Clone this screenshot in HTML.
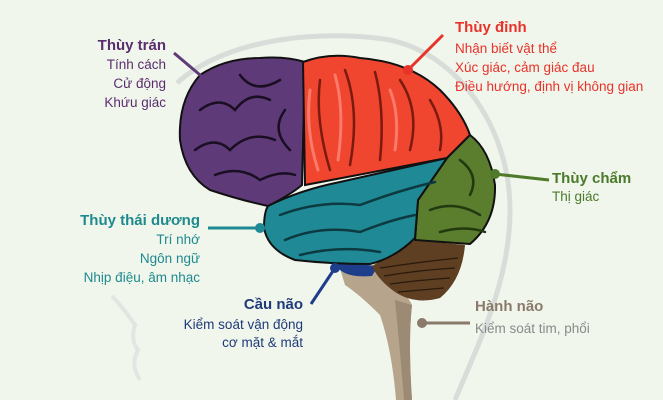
<!DOCTYPE html>
<html><head><meta charset="utf-8"><style>
html,body{margin:0;padding:0;background:#f0f6ec;}
svg{display:block;font-family:"Liberation Sans","DejaVu Sans",sans-serif;}
</style></head><body>
<svg width="663" height="400" viewBox="0 0 663 400">
<rect width="663" height="400" fill="#f0f6ec"/>
<path d="M177,83 C230,35 330,30 390,40 C460,55 510,130 510,210 C510,280 480,340 455,400" fill="none" stroke="#d9ddd9" stroke-width="5"/>
<path d="M112,296 Q125,310 135,325 Q130,340 138,350 Q130,365 140,380" fill="none" stroke="#e2e6e2" stroke-width="4"/>
<!-- brainstem -->
<path d="M338,262 L378,268 Q405,290 412,305 Q408,340 412,400 L396,400 Q392,350 380,315 Q360,295 345,285 Z" fill="#b7a48c"/>
<path d="M395,300 Q400,350 404,400 L412,400 Q408,340 412,305 Z" fill="#9c8a74"/>
<!-- pons -->
<path d="M336,262 L378,266 L372,276 Q350,278 340,270 Z" fill="#1e3d8a"/>
<!-- cerebellum -->
<path d="M372,266 L415,240 L465,245 Q462,280 440,298 Q415,305 395,292 Q378,280 372,266 Z" fill="#5e3f22"/>
<g stroke="#2a1a0c" stroke-width="1.3" fill="none">
<path d="M380,268 Q420,262 458,258"/><path d="M384,276 Q420,270 455,268"/><path d="M390,284 Q420,280 450,278"/><path d="M398,292 Q420,290 444,288"/>
</g>
<!-- purple frontal -->
<path d="M268,206 Q240,200 210,190 Q185,175 180,140 Q178,100 200,75 Q225,58 260,58 Q285,56 305,62 L302,185 Q290,195 268,206 Z" fill="#5f3a78" stroke="#111" stroke-width="2"/>
<!-- red parietal -->
<path d="M303,62 Q330,52 360,58 Q410,62 440,90 Q462,112 470,135 L447,158 L305,185 Z" fill="#f0452e" stroke="#111" stroke-width="2"/>
<!-- green occipital -->
<path d="M470,135 Q490,150 495,185 Q496,222 470,244 L415,240 L418,200 L447,158 Z" fill="#5a7d2e" stroke="#111" stroke-width="2"/>
<!-- teal temporal -->
<path d="M268,206 Q300,190 340,182 L447,158 L418,200 L415,238 Q395,258 370,264 Q330,264 295,260 Q268,250 264,228 Q264,212 268,206 Z" fill="#1f8a95" stroke="#111" stroke-width="2"/>
<!-- folds -->
<g stroke="#1a0f22" stroke-width="2.5" fill="none" stroke-linecap="round">
<path d="M200,110 Q220,95 235,110 Q250,90 270,100"/><path d="M195,150 Q215,135 230,150 Q250,130 275,140"/><path d="M215,175 Q240,165 260,180 Q280,170 295,175"/><path d="M240,75 Q255,95 280,80"/><path d="M285,110 Q270,130 290,150"/>
</g>
<g stroke="#7a1a10" stroke-width="2.5" fill="none" stroke-linecap="round">
<path d="M320,80 Q315,120 330,170"/><path d="M345,70 Q360,110 350,165"/><path d="M375,72 Q385,110 380,160"/><path d="M400,80 Q420,110 410,150"/><path d="M430,100 Q445,125 440,150"/>
</g>
<g stroke="#fa7b6a" stroke-width="3" fill="none" stroke-linecap="round">
<path d="M310,90 Q305,130 318,170"/><path d="M335,75 Q345,110 338,160"/><path d="M390,90 Q400,115 395,150"/>
</g>
<g stroke="#0c3a40" stroke-width="2.5" fill="none" stroke-linecap="round">
<path d="M280,215 Q320,200 360,205 Q400,190 435,182"/><path d="M285,240 Q320,225 360,232 Q390,220 415,215"/><path d="M300,255 Q340,245 380,252"/>
</g>
<g stroke="#233a10" stroke-width="2.5" fill="none" stroke-linecap="round">
<path d="M460,160 Q480,175 470,195"/><path d="M430,210 Q455,200 480,215"/><path d="M440,232 Q465,225 485,232"/>
</g>
<!-- connectors -->
<g stroke-width="3">
<line x1="174" y1="53" x2="206" y2="80" stroke="#5f3a78"/><circle cx="206" cy="80" r="5" fill="#5f3a78"/>
<line x1="443" y1="35" x2="408" y2="70" stroke="#e8322a"/><circle cx="408" cy="70" r="5" fill="#e8322a"/>
<line x1="549" y1="180" x2="495" y2="174" stroke="#4f7a2a"/><circle cx="495" cy="174" r="5" fill="#4f7a2a"/>
<line x1="208" y1="228" x2="260" y2="228" stroke="#1f8a95"/><circle cx="260" cy="228" r="5" fill="#1f8a95"/>
<line x1="311" y1="304" x2="335" y2="268" stroke="#1e3d8a"/><circle cx="335" cy="268" r="5" fill="#1e3d8a"/>
<line x1="470" y1="323" x2="422" y2="323" stroke="#8a7a6a"/><circle cx="422" cy="323" r="5" fill="#8a7a6a"/>
</g>
<!-- labels -->
<g font-size="13.5">
<text x="166" y="50" text-anchor="end" font-weight="bold" font-size="15" fill="#5a2d6e">Thùy trán</text>
<text x="166" y="69" text-anchor="end" fill="#5a2d6e">Tính cách</text>
<text x="166" y="88" text-anchor="end" fill="#5a2d6e">Cử động</text>
<text x="166" y="107" text-anchor="end" fill="#5a2d6e">Khứu giác</text>
<text x="455" y="32" font-weight="bold" font-size="15" fill="#e8322a">Thùy đỉnh</text>
<text x="455" y="53" fill="#e8322a">Nhận biết vật thể</text>
<text x="455" y="72" fill="#e8322a">Xúc giác, cảm giác đau</text>
<text x="455" y="91" fill="#e8322a">Điều hướng, định vị không gian</text>
<text x="552" y="183" font-weight="bold" font-size="15" fill="#4a7a2a">Thùy chẩm</text>
<text x="552" y="201" fill="#4a7a2a">Thị giác</text>
<text x="200" y="225" text-anchor="end" font-weight="bold" font-size="15" fill="#1f8a8e">Thùy thái dương</text>
<text x="200" y="244" text-anchor="end" fill="#1f8a8e">Trí nhớ</text>
<text x="200" y="263" text-anchor="end" fill="#1f8a8e">Ngôn ngữ</text>
<text x="200" y="282" text-anchor="end" fill="#1f8a8e">Nhịp điệu, âm nhạc</text>
<text x="303" y="309" text-anchor="end" font-weight="bold" font-size="15" fill="#1f3a7a">Cầu não</text>
<text x="303" y="329" text-anchor="end" fill="#1f3a7a">Kiểm soát vận động</text>
<text x="303" y="347" text-anchor="end" fill="#1f3a7a">cơ mặt &amp; mắt</text>
<text x="475" y="311" font-weight="bold" font-size="15" fill="#8a7a6a">Hành não</text>
<text x="475" y="333" fill="#8a8a8a">Kiểm soát tim, phổi</text>
</g>
</svg>
</body></html>
